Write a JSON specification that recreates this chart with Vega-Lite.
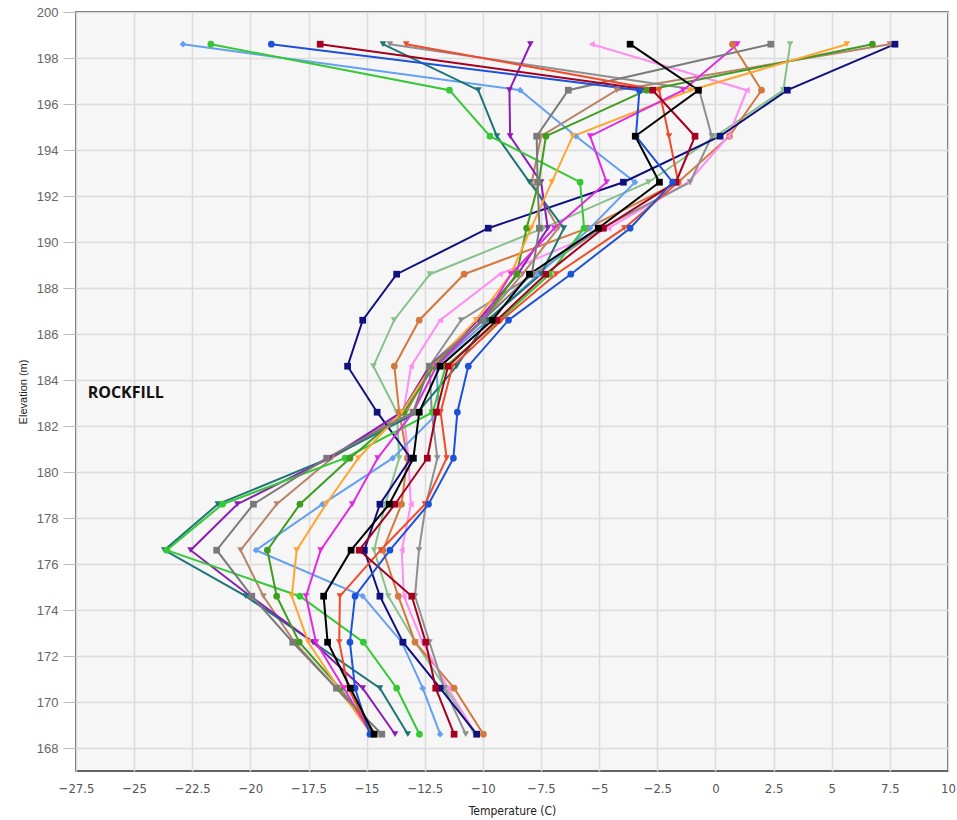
{
  "$schema": "https://vega.github.io/schema/vega-lite/v6.json",
  "width": 872,
  "height": 759,
  "autosize": {"type": "none"},
  "padding": {"left": 76, "top": 12, "right": 9, "bottom": 49},
  "background": "white",
  "config": {
    "view": {"fill": "#f6f6f6", "stroke": "#333333", "strokeWidth": 1.5},
    "font": "Liberation Sans"
  },
  "layer": [
    {
      "data": {
        "values": [
          {"e": 198.6, "navy": 7.72, "blue": -19.1, "lblue": -22.9, "red": -13.3, "dred": -17.0, "black": -3.67, "gsq": 2.38, "gtri": -14.0, "green": -21.7, "teal": -14.3, "purple": -7.96, "magenta": 0.94, "pink": -5.32, "orange": 5.65, "brown": 7.5, "dgreen": 6.75, "sage": 3.21, "obrown": 0.73},
          {"e": 196.6, "navy": 3.09, "blue": -3.27, "lblue": -8.4, "red": -2.42, "dred": -2.7, "black": -0.73, "gsq": -6.33, "gtri": -0.7, "green": -11.44, "teal": -10.2, "purple": -8.86, "magenta": -1.39, "pink": 1.35, "orange": -1.06, "brown": -4.25, "dgreen": -2.96, "sage": 2.92, "obrown": 1.98},
          {"e": 194.6, "navy": 0.2, "blue": -3.42, "lblue": -6.0, "red": -2.0, "dred": -0.88, "black": -3.45, "gsq": -7.69, "gtri": -0.16, "green": -9.7, "teal": -9.4, "purple": -8.83, "magenta": -5.39, "pink": 0.56, "orange": -6.14, "brown": -7.5, "dgreen": -7.29, "sage": 0.0, "obrown": 0.6},
          {"e": 192.6, "navy": -3.96, "blue": -1.84, "lblue": -3.46, "red": -1.6, "dred": -1.7, "black": -2.41, "gsq": -7.65, "gtri": -1.09, "green": -5.82, "teal": -8.0, "purple": -7.5, "magenta": -4.68, "pink": -1.17, "orange": -7.04, "brown": -7.9, "dgreen": -7.6, "sage": -2.88, "obrown": -1.6},
          {"e": 190.6, "navy": -9.77, "blue": -3.67, "lblue": -5.4, "red": -3.92, "dred": -4.82, "black": -5.04, "gsq": -7.57, "gtri": -4.9, "green": -5.65, "teal": -6.52, "purple": -7.21, "magenta": -6.93, "pink": -4.6, "orange": -7.93, "brown": -6.76, "dgreen": -8.12, "sage": -7.4, "obrown": -5.5},
          {"e": 188.6, "navy": -13.71, "blue": -6.22, "lblue": -7.6, "red": -6.86, "dred": -7.3, "black": -8.0, "gsq": -7.9, "gtri": -7.8, "green": -7.14, "teal": -7.5, "purple": -8.5, "magenta": -8.79, "pink": -9.27, "orange": -8.8, "brown": -8.3, "dgreen": -8.55, "sage": -12.28, "obrown": -10.81},
          {"e": 186.6, "navy": -15.17, "blue": -8.9, "lblue": -9.8, "red": -9.2, "dred": -9.4, "black": -9.6, "gsq": -10.0, "gtri": -10.94, "green": -9.3, "teal": -9.8, "purple": -10.2, "magenta": -10.03, "pink": -11.84, "orange": -10.3, "brown": -10.0, "dgreen": -10.0, "sage": -13.82, "obrown": -12.74},
          {"e": 184.6, "navy": -15.82, "blue": -10.63, "lblue": -12.0, "red": -11.31, "dred": -11.5, "black": -11.84, "gsq": -12.3, "gtri": -12.3, "green": -11.6, "teal": -11.13, "purple": -12.3, "magenta": -12.0, "pink": -13.09, "orange": -12.2, "brown": -12.2, "dgreen": -12.1, "sage": -14.71, "obrown": -13.81},
          {"e": 182.6, "navy": -14.55, "blue": -11.1, "lblue": -11.9, "red": -11.82, "dred": -12.0, "black": -12.74, "gsq": -13.0, "gtri": -12.2, "green": -12.16, "teal": -12.8, "purple": -13.5, "magenta": -13.0, "pink": -13.42, "orange": -13.49, "brown": -13.3, "dgreen": -13.4, "sage": -13.7, "obrown": -13.6},
          {"e": 180.6, "navy": -13.1, "blue": -11.27, "lblue": -13.88, "red": -11.56, "dred": -12.39, "black": -12.99, "gsq": -16.72, "gtri": -11.96, "green": -15.93, "teal": -16.6, "purple": -16.6, "magenta": -14.53, "pink": -13.2, "orange": -15.36, "brown": -16.5, "dgreen": -15.72, "sage": -13.6, "obrown": -13.25},
          {"e": 178.6, "navy": -14.43, "blue": -12.34, "lblue": -16.9, "red": -12.49, "dred": -13.78, "black": -14.03, "gsq": -19.87, "gtri": -12.45, "green": -21.2, "teal": -21.4, "purple": -20.56, "magenta": -15.62, "pink": -13.1, "orange": -16.75, "brown": -18.87, "dgreen": -17.87, "sage": -14.2, "obrown": -13.5},
          {"e": 176.6, "navy": -15.1, "blue": -14.0, "lblue": -19.76, "red": -14.4, "dred": -15.32, "black": -15.67, "gsq": -21.45, "gtri": -12.75, "green": -23.6, "teal": -23.7, "purple": -22.57, "magenta": -16.98, "pink": -13.49, "orange": -18.01, "brown": -20.42, "dgreen": -19.27, "sage": -14.68, "obrown": -14.3},
          {"e": 174.6, "navy": -14.43, "blue": -15.5, "lblue": -15.17, "red": -16.15, "dred": -13.06, "black": -16.85, "gsq": -19.94, "gtri": -12.92, "green": -17.87, "teal": -20.2, "purple": -20.0, "magenta": -17.61, "pink": -13.4, "orange": -18.22, "brown": -19.44, "dgreen": -18.87, "sage": -14.07, "obrown": -13.64},
          {"e": 172.6, "navy": -13.44, "blue": -15.72, "lblue": -13.49, "red": -16.18, "dred": -12.46, "black": -16.68, "gsq": -18.18, "gtri": -12.3, "green": -15.14, "teal": -17.3, "purple": -17.3, "magenta": -17.18, "pink": -12.6, "orange": -17.51, "brown": -18.1, "dgreen": -17.9, "sage": -12.9, "obrown": -12.92},
          {"e": 170.6, "navy": -11.84, "blue": -15.5, "lblue": -12.59, "red": -15.79, "dred": -12.03, "black": -15.7, "gsq": -16.3, "gtri": -11.66, "green": -13.71, "teal": -14.43, "purple": -15.17, "magenta": -15.98, "pink": -11.5, "orange": -16.2, "brown": -16.3, "dgreen": -16.15, "sage": -11.6, "obrown": -11.24},
          {"e": 168.6, "navy": -10.27, "blue": -14.86, "lblue": -11.84, "red": -14.8, "dred": -11.24, "black": -14.68, "gsq": -14.35, "gtri": -10.74, "green": -12.73, "teal": -13.23, "purple": -13.78, "magenta": -14.8, "pink": -10.3, "orange": -14.8, "brown": -14.6, "dgreen": -14.7, "sage": -10.35, "obrown": -9.98}
        ]
      },
      "transform": [
        {"fold": ["sage", "obrown", "brown", "pink", "gtri", "lblue", "navy", "teal", "purple", "green", "dgreen", "orange", "magenta", "gsq", "red", "dred", "blue", "black"], "as": ["s", "t"]}
      ],
      "encoding": {
        "x": {
          "field": "t", "type": "quantitative",
          "scale": {"domain": [-27.5, 10], "nice": false, "zero": false},
          "axis": {
            "values": [-27.5, -25, -22.5, -20, -17.5, -15, -12.5, -10, -7.5, -5, -2.5, 0, 2.5, 5, 7.5, 10],
            "format": ".1~f",
            "title": "Temperature (C)", "titleFontSize": 12, "titleFontWeight": "normal", "titleColor": "#222222",
            "titlePadding": 10, "titleFont": "Liberation Sans Narrow, DejaVu Sans Condensed, Liberation Sans",
            "labelFont": "Liberation Sans Narrow, DejaVu Sans Condensed, Liberation Sans",
            "labelFontSize": 13, "labelColor": "#555555", "labelPadding": 11, "labelFlush": false, "labelOverlap": false,
            "ticks": false, "domain": false,
            "grid": true, "gridColor": "#dcdcdc", "gridWidth": 1.5
          }
        },
        "y": {
          "field": "e", "type": "quantitative",
          "scale": {"domain": [167, 200], "nice": false, "zero": false},
          "axis": {
            "values": [168, 170, 172, 174, 176, 178, 180, 182, 184, 186, 188, 190, 192, 194, 196, 198, 200],
            "format": "d",
            "title": "Elevation (m)", "titleFontSize": 11, "titleFontWeight": "normal", "titleColor": "#222222",
            "titlePadding": 8,
            "labelFontSize": 13, "labelColor": "#666666", "labelPadding": 5, "labelOverlap": false,
            "ticks": true, "tickSize": 13, "tickColor": "#bbbbbb",
            "domain": false,
            "grid": true, "gridColor": "#dcdcdc", "gridWidth": 1.5
          }
        },
        "color": {
          "field": "s", "type": "nominal", "legend": null,
          "scale": {
            "domain": ["navy", "blue", "lblue", "red", "dred", "black", "gsq", "gtri", "green", "teal", "purple", "magenta", "pink", "orange", "brown", "dgreen", "sage", "obrown"],
            "range": ["#10107e", "#1e52d6", "#64a0f2", "#f04b2b", "#a50020", "#000000", "#7a7a7a", "#8f8f8f", "#35c935", "#1d7576", "#8b1cb5", "#e02be0", "#ff8ef2", "#ffa534", "#b88468", "#3f9c1f", "#86c08a", "#d4793e"]
          }
        }
      },
      "layer": [
        {"mark": {"type": "line", "strokeWidth": 2}, "encoding": {"order": {"field": "e", "type": "quantitative"}}},
        {
          "mark": {"type": "point", "filled": true, "size": 45, "opacity": 1},
          "encoding": {
            "shape": {
              "field": "s", "type": "nominal", "legend": null,
              "scale": {
                "domain": ["navy", "blue", "lblue", "red", "dred", "black", "gsq", "gtri", "green", "teal", "purple", "magenta", "pink", "orange", "brown", "dgreen", "sage", "obrown"],
                "range": ["square", "circle", "diamond", "triangle-down", "square", "square", "square", "triangle-down", "circle", "triangle-down", "triangle-down", "triangle-down", "triangle-left", "triangle-down", "triangle-down", "circle", "triangle-down", "circle"]
              }
            }
          }
        }
      ]
    },
    {
      "data": {"values": [{"label": "ROCKFILL"}]},
      "mark": {"type": "text", "align": "left", "baseline": "middle", "fontSize": 16, "fontWeight": "bold", "font": "Open Sans", "color": "#111111"},
      "encoding": {
        "x": {"datum": -27, "type": "quantitative"},
        "y": {"datum": 183.45, "type": "quantitative"},
        "text": {"field": "label"}
      }
    }
  ]
}
